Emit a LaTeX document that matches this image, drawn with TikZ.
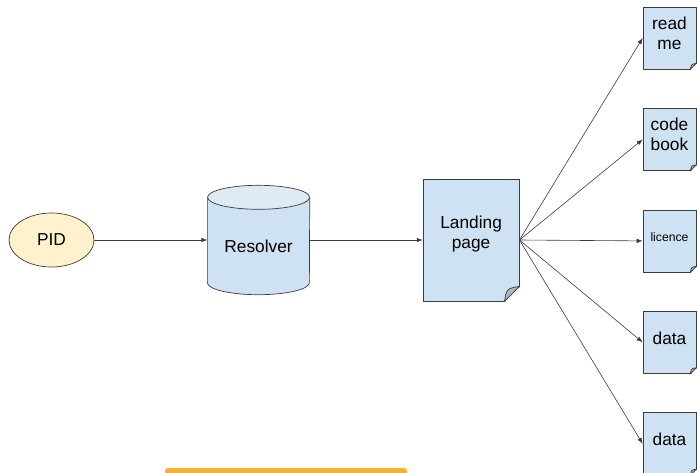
\documentclass[tikz,border=0pt]{standalone}
\usepackage{fontspec}
\setmainfont{Liberation Sans}
\usetikzlibrary{positioning}
\usetikzlibrary{shapes.geometric}
\usetikzlibrary{arrows.meta}
\usetikzlibrary{calc}
\definecolor{pidfill}{HTML}{FFF2CC}
\definecolor{docfill}{HTML}{CFE2F3}
\definecolor{capfill}{HTML}{DFEAF6}
\definecolor{foldfill}{HTML}{A8B7C7}
\definecolor{linegray}{HTML}{3C3C3C}
\definecolor{barorange}{HTML}{F8B22E}
\tikzset{	node distance=113pt,
	every edge/.style={
		draw,
		-{Latex[length=6pt,width=4.5pt]},
		line width=0.6pt,
		linegray},
	pid/.style={ellipse, draw=linegray, line width=0.7pt, fill=pidfill,
		minimum width=85pt, minimum height=54pt, inner sep=0pt},
	store/.style={rectangle, minimum width=102pt, minimum height=109pt, inner sep=0pt},
	outline/.style={draw=linegray, line width=0.7pt},
	docpage/.style={rectangle, outline, fill=docfill, inner sep=0pt},
	bigdoc/.style={docpage, minimum width=96pt, minimum height=122pt},
	smalldoc/.style={docpage, minimum width=53pt, minimum height=62pt},
	doctext/.style={align=center, font=\fontsize{17.3}{20}\selectfont},
	tinytext/.style={align=center, font=\fontsize{12.2}{14}\selectfont}
}
\begin{document}
\begin{tikzpicture}[x=1pt, y=1pt]
	\useasboundingbox (0,-472) rectangle (697,0);
	\begin{scope}
	\clip (0,-472) rectangle (697,0);
	% main chain
	\node[pid] (pid) at (51.5,-240) {\fontsize{17.3}{20}\selectfont PID};
	\node[store, right=of pid] (resolver) {};
	\node[bigdoc, right=of resolver] (land) {};
	% the resolver is drawn as a cylinder round its node
	\draw[outline, fill=docfill] ($(resolver.north west)+(0,-12)$)
		-- ($(resolver.south west)+(0,12)$)
		arc[start angle=180, end angle=360, x radius=51, y radius=12]
		-- ($(resolver.north east)+(0,-12)$);
	\draw[outline, fill=capfill] ($(resolver.north)+(0,-12)$) ellipse[x radius=51, y radius=12];
	\node[doctext] (resolvertext) at ($(resolver.center)+(0,-6)$) {Resolver};
	\node[doctext] (landtext) at ($(land.center)+(0,6)$) {Landing\\page};
	% documents behind the landing page
	\node[smalldoc] (readme) at (669.5,-38) {};
	\node[smalldoc, below=38.75pt of readme] (codebook) {};
	\node[smalldoc, below=38.75pt of codebook] (licence) {};
	\node[smalldoc, below=38.75pt of licence] (dataa) {};
	\node[smalldoc, below=38.75pt of dataa] (datab) {};
	\node[doctext] (readmetext) at ($(readme.center)+(0,5)$) {read\\me};
	\node[doctext] (codebooktext) at ($(codebook.center)+(0,5)$) {code\\book};
	\node[tinytext] (licencetext) at ($(licence.center)+(0,4)$) {licence};
	\node[doctext] (dataatext) at ($(dataa.center)+(0,4)$) {data};
	\node[doctext] (databtext) at ($(datab.center)+(0,4)$) {data};
	% folded corners
	\foreach \d/\f in {land/15, readme/6, codebook/6, licence/6, dataa/6, datab/6} {
		\fill[white] ($(\d.south east)+(-\f,-1)$) -- ($(\d.south east)+(1,-1)$)
			-- ($(\d.south east)+(1,\f)$) -- cycle;
		\draw[outline, fill=foldfill]
			($(\d.south east)+(-\f,0)$) .. controls ($(\d.south east)+(-0.85*\f,0.85*\f)$)
			.. ($(\d.south east)+(0,\f)$) -- cycle;
	}
	\draw (pid) edge (resolver);
	\draw (resolver) edge (land);
	\foreach \t in {readme, codebook, licence, dataa, datab}
		\draw (land.east) edge (\t.west);
	% strip along the bottom
	\fill[barorange, rounded corners=3pt] (165,-468) rectangle (407,-490);
	\end{scope}
\end{tikzpicture}
\end{document}
